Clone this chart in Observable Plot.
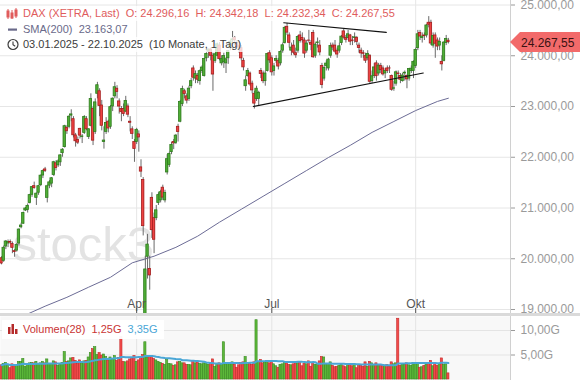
<!DOCTYPE html>
<html><head><meta charset="utf-8">
<script src="https://cdn.jsdelivr.net/npm/d3@7"></script>
<script src="https://cdn.jsdelivr.net/npm/@observablehq/plot@0.6"></script>
<style>
body{margin:0;background:#fff;font-family:"Liberation Sans",Arial,sans-serif;}
#wrap{position:relative;width:580px;height:380px;overflow:hidden;background:#fff;}
#wrap>svg{position:absolute;left:0;}
.leg{position:absolute;left:2px;white-space:pre;font-size:11px;height:15px;line-height:15px;background:rgba(255,255,255,0.78);padding-right:4px;}
.leg svg{position:absolute;left:0;top:0;}
.leg span.t{position:relative;left:21px;padding-right:21px;}
</style></head><body><div id="wrap"></div>
<script>
// ---- data ----
const dates = [
"2025-01-03","2025-01-06","2025-01-07","2025-01-08","2025-01-09","2025-01-10","2025-01-13","2025-01-14","2025-01-15","2025-01-16","2025-01-17","2025-01-20","2025-01-21","2025-01-22","2025-01-23","2025-01-24","2025-01-27","2025-01-28","2025-01-29","2025-01-30","2025-01-31",
"2025-02-03","2025-02-04","2025-02-05","2025-02-06","2025-02-07","2025-02-10","2025-02-11","2025-02-12","2025-02-13","2025-02-14","2025-02-17","2025-02-18","2025-02-19","2025-02-20","2025-02-21","2025-02-24","2025-02-25","2025-02-26","2025-02-27","2025-02-28",
"2025-03-03","2025-03-04","2025-03-05","2025-03-06","2025-03-07","2025-03-10","2025-03-11","2025-03-12","2025-03-13","2025-03-14","2025-03-17","2025-03-18","2025-03-19","2025-03-20","2025-03-21","2025-03-24","2025-03-25","2025-03-26","2025-03-27","2025-03-28","2025-03-31",
"2025-04-01","2025-04-02","2025-04-03","2025-04-04","2025-04-07","2025-04-08","2025-04-09","2025-04-10","2025-04-11","2025-04-14","2025-04-15","2025-04-16","2025-04-17","2025-04-22","2025-04-23","2025-04-24","2025-04-25","2025-04-28","2025-04-29","2025-04-30",
"2025-05-02","2025-05-05","2025-05-06","2025-05-07","2025-05-08","2025-05-09","2025-05-12","2025-05-13","2025-05-14","2025-05-15","2025-05-16","2025-05-19","2025-05-20","2025-05-21","2025-05-22","2025-05-23","2025-05-26","2025-05-27","2025-05-28","2025-05-29","2025-05-30",
"2025-06-02","2025-06-03","2025-06-04","2025-06-05","2025-06-06","2025-06-09","2025-06-10","2025-06-11","2025-06-12","2025-06-13","2025-06-16","2025-06-17","2025-06-18","2025-06-19","2025-06-20","2025-06-23","2025-06-24","2025-06-25","2025-06-26","2025-06-27","2025-06-30",
"2025-07-01","2025-07-02","2025-07-03","2025-07-04","2025-07-07","2025-07-08","2025-07-09","2025-07-10","2025-07-11","2025-07-14","2025-07-15","2025-07-16","2025-07-17","2025-07-18","2025-07-21","2025-07-22","2025-07-23","2025-07-24","2025-07-25","2025-07-28","2025-07-29","2025-07-30","2025-07-31",
"2025-08-01","2025-08-04","2025-08-05","2025-08-06","2025-08-07","2025-08-08","2025-08-11","2025-08-12","2025-08-13","2025-08-14","2025-08-15","2025-08-18","2025-08-19","2025-08-20","2025-08-21","2025-08-22","2025-08-25","2025-08-26","2025-08-27","2025-08-28","2025-08-29",
"2025-09-01","2025-09-02","2025-09-03","2025-09-04","2025-09-05","2025-09-08","2025-09-09","2025-09-10","2025-09-11","2025-09-12","2025-09-15","2025-09-16","2025-09-17","2025-09-18","2025-09-19","2025-09-22","2025-09-23","2025-09-24","2025-09-25","2025-09-26","2025-09-29","2025-09-30",
"2025-10-01","2025-10-02","2025-10-03","2025-10-06","2025-10-07","2025-10-08","2025-10-09","2025-10-10","2025-10-13","2025-10-14","2025-10-15","2025-10-16","2025-10-17","2025-10-20","2025-10-21","2025-10-22"
];
const open = [
20010,19960,20240,20300,20330,20290,20150,20160,20300,20620,20690,20950,20960,21100,21260,21430,21200,21300,21450,21640,21760,
21200,21440,21480,21650,21880,21840,21900,22080,22200,22580,22600,22820,22750,22430,22340,22560,22400,22480,22750,22400,
22620,22950,22500,23250,23300,23020,22300,22500,22700,22600,23000,23200,23350,23100,22950,22950,22900,23000,22700,22550,22300,
22300,22450,21800,21550,18700,20040,19800,21200,20800,20800,21100,21150,21400,21150,21700,21850,22100,22300,22280,22600,
22700,23050,23300,23200,23150,23400,23750,23550,23600,23500,23700,23600,23950,24080,24120,24000,23900,24000,24200,23850,23880,
23850,23950,24150,24300,24350,24250,24200,24150,23900,23400,23600,23650,23450,23250,23150,23150,23700,23650,23500,23700,24050,
23950,23700,23900,23900,23850,24100,24250,24570,24400,24100,24200,24050,24100,24400,24350,24300,24100,24300,24250,24450,24000,24250,24200,
23800,23550,23800,23750,24000,24200,24200,24100,24100,24250,24480,24350,24350,24400,24300,24350,24350,24200,24100,24050,24000,
23950,24000,23500,23600,23850,23650,23800,23750,23650,23750,23750,23600,23350,23450,23650,23600,23500,23650,23600,23550,23700,23700,
23800,24150,24450,24350,24400,24400,24650,24650,24200,24400,24300,24200,23880,23900,24250,24296.16
];
const high = [
20040,20250,20360,20370,20370,20330,20180,20300,20590,20700,20920,21010,21080,21270,21420,21510,21300,21440,21650,21750,21800,
21450,21540,21600,21920,21930,21950,22050,22170,22630,22620,22820,22935,22800,22470,22400,22570,22450,22820,22800,22560,
23250,22990,23150,23476,23350,23120,22600,22780,22730,23020,23170,23476,23410,23150,23000,23050,23200,23050,22800,22600,22350,
22570,22520,21950,21600,20050,20480,20050,21300,20900,21050,21300,21350,21450,21350,22050,22100,22290,22350,22450,22650,
23120,23400,23340,23250,23400,23550,23800,23700,23650,23720,23800,23950,24060,24130,24150,24050,24050,24250,24260,24000,24050,
23960,24100,24300,24479,24380,24300,24260,24200,23950,23600,23750,23680,23500,23300,23400,23300,23750,23700,23700,24050,24100,
24000,23850,24000,23950,24100,24250,24580,24639,24450,24250,24300,24150,24400,24480,24450,24350,24300,24500,24300,24500,24250,24350,24300,
23850,23800,23900,23950,24250,24250,24300,24150,24250,24400,24530,24400,24500,24420,24380,24450,24380,24250,24150,24100,24050,
24100,24020,23700,23850,23900,23850,23850,23800,23750,23800,23800,23620,23500,23700,23700,23650,23650,23700,23620,23750,23800,23900,
24150,24500,24500,24450,24450,24620,24771,24700,24450,24450,24350,24350,24000,24280,24400,24342.18
];
const low = [
19880,19930,20180,20220,20280,20100,20030,20130,20250,20590,20680,20930,20900,21080,21210,21370,21050,21250,21420,21580,21700,
21100,21380,21400,21620,21730,21800,21820,22000,22180,22450,22560,22700,22380,22200,22250,22360,22270,22450,22520,22350,
22600,22230,22450,23150,22800,22520,22160,22450,22480,22550,22900,23150,23150,22850,22700,22800,22880,22780,22500,22350,21900,
22250,22100,21600,20450,18490,19600,19380,20400,20100,20750,21050,21100,21150,21100,21650,21800,22050,22150,22250,22300,
22680,23000,23150,23050,23100,23350,23500,23450,23450,23420,23650,23580,23880,23950,23900,23300,23850,23980,23900,23800,23750,
23650,23830,24100,24250,24200,24120,24050,23900,23700,23300,23580,23400,23250,22950,23100,23000,23550,23450,23400,23680,23850,
23600,23600,23850,23720,23800,24050,24230,24400,24150,24000,24020,23950,24050,24250,24250,23950,24050,24250,24100,23950,23950,24150,24000,
23350,23500,23700,23700,23950,24100,24050,23950,24050,24200,24330,24250,24300,24200,24200,24250,24200,24050,23950,23950,23850,
23900,23450,23450,23550,23500,23600,23650,23600,23550,23650,23650,23300,23300,23400,23550,23450,23480,23500,23350,23500,23650,23550,
23750,24100,24300,24250,24300,24350,24550,24200,24150,23950,24100,24100,23700,23880,24200,24232.34
];
const close = [
19906,20216,20340,20329,20317,20215,20132,20271,20575,20655,20903,20990,21042,21254,21411,21394,21282,21430,21637,21727,21732,
21428,21505,21586,21902,21787,21918,22037,22149,22612,22513,22798,22844,22433,22315,22287,22426,22410,22794,22551,22551,
23147,22327,23081,23419,23009,22620,22329,22676,22567,22987,23154,23380,23288,22999,22892,22853,23109,22839,22679,22461,22163,
22540,22390,21717,20642,19789,20280,19671,20563,20374,20954,21254,21311,21206,21294,21962,22065,22242,22272,22426,22497,
23087,23344,23249,23116,23352,23499,23567,23638,23527,23696,23767,23934,24036,24122,23999,23630,24028,24226,23933,23933,23997,
23930,24091,24276,24323,24304,24174,24162,23948,23771,23516,23699,23434,23317,23057,23350,23269,23641,23498,23649,24033,23909,
23673,23790,23934,23787,24073,24206,24550,24456,24255,24161,24060,24009,24370,24289,24307,24042,24240,24296,24217,23970,24218,24262,24065,
23425,23758,23846,23924,24193,24163,24081,24024,24186,24377,24359,24314,24423,24277,24293,24363,24273,24152,24046,24039,23902,
24037,23487,23595,23770,23597,23807,23718,23632,23703,23698,23749,23329,23359,23674,23639,23527,23611,23666,23534,23739,23745,23880,
24113,24423,24379,24378,24386,24597,24611,24241,24388,24237,24181,24272,23831,24259,24330,24267.55
];
// volume in G (billions)
const volume = [
2.9,3.2,3.4,2.9,2.3,3.1,3.0,3.0,3.6,3.6,4.2,2.6,3.0,3.3,3.4,3.3,3.6,3.1,3.3,3.6,3.3,
4.1,3.2,3.2,3.7,3.5,2.8,3.1,3.4,5.6,3.6,3.7,4.3,4.4,3.8,3.2,3.9,3.3,3.7,3.8,4.5,
5.4,6.2,6.6,5.0,5.4,4.9,5.1,4.6,3.9,4.5,4.0,4.8,3.8,4.4,8.7,3.6,3.5,3.7,4.1,4.2,4.8,
3.6,3.9,4.6,5.0,7.6,4.4,4.6,4.8,4.2,3.9,3.6,3.4,3.2,3.0,4.0,3.2,3.1,2.8,2.9,3.5,
3.6,3.3,3.3,3.0,3.0,2.9,3.8,3.3,3.4,3.2,3.1,3.3,3.3,3.0,3.2,4.1,2.6,3.1,3.3,3.0,7.6,
3.1,3.2,3.1,3.5,3.0,2.4,2.9,3.4,3.5,4.6,3.1,3.2,3.0,3.5,12.1,3.6,4.0,3.3,3.4,3.8,3.3,
3.6,3.1,2.7,2.4,3.0,3.1,3.6,3.3,3.0,2.9,3.1,3.2,3.3,3.5,2.7,3.2,3.1,3.7,2.6,3.4,3.0,3.1,3.7,
4.6,4.5,3.0,3.2,3.5,2.8,2.5,2.6,2.8,3.0,2.7,2.5,3.0,3.0,2.7,3.0,2.3,3.0,2.8,2.6,3.5,
2.6,3.6,3.3,3.0,3.3,2.8,2.9,3.0,2.8,3.0,2.6,3.5,3.1,3.3,12.4,2.8,3.0,3.0,3.3,2.9,2.8,3.4,
3.3,3.3,2.4,2.5,2.8,3.0,3.2,3.8,2.7,3.1,2.8,3.2,4.3,3.0,3.1,1.25
];
// SMA(200) read at sample trading-day indices
const smaIdx = [0,13,20,30,40,50,60,70,80,90,100,110,120,130,140,150,160,170,180,190,200,205];
const smaVal = [18700,18930,19065,19240,19440,19635,19920,20050,20225,20445,20720,20975,21230,21485,21740,21995,22235,22490,22705,22920,23100,23163.07];
// trend lines (trading-day index, price)
const upperIdx = [129.5,176.5], upperVal = [24650,24460];
const lowerIdx = [115.5,193.5], lowerVal = [23000,23660];
const yTicks = [19000,20000,21000,22000,23000,24000,25000];
const volTicks = [5,10];
const xTickDates = ["2025-04-01","2025-07-01","2025-10-01"];
const xTickLabels = ["Apr","Jul","Okt"];

// ---- build ----
const de = d3.formatLocale({decimal:",",thousands:".",grouping:[3],currency:["","€"]});
const fmt = de.format(",.2f");
const fmtG = d => de.format(".2f")(d) + "G";
const n = Math.min(dates.length, open.length, high.length, low.length, close.length, volume.length);
const rows = d3.range(n).map(i => ({i, date:dates[i], o:open[i], h:high[i], l:low[i], c:close[i], v:volume[i], up: close[i] >= open[i]}));
const ma = rows.map((d,i) => ({i, m: d3.mean(rows.slice(Math.max(0,i-27), i+1), r => r.v)}));
const sma = smaIdx.map((x,k) => ({i:x, v:smaVal[k]}));
const xt = xTickDates.map((d,k) => ({i: dates.indexOf(d), label: xTickLabels[k]}));
const xDomain = [-0.46, 233.5];
const FONT = "Liberation Sans, Arial, sans-serif";

const main = Plot.plot({
  width:580, height:313, marginLeft:0, marginRight:70, marginTop:0, marginBottom:0,
  x:{domain:xDomain, axis:null},
  y:{domain:[19000,25000], range:[309,4.5], axis:null},
  style:{fontFamily:FONT, background:"transparent", overflow:"visible"},
  marks:[
    Plot.ruleY(yTicks, {stroke:"#e6e6e6"}),
    Plot.ruleX(xt, {x:"i", stroke:"#e6e6e6"}),
    Plot.text(["stock3"], {text:d=>d, frameAnchor:"bottom-left", dx:12, dy:-53, lineAnchor:"bottom", textAnchor:"start", fontSize:49, fill:"#e3e3e3"}),
    Plot.line(sma, {x:"i", y:"v", stroke:"#6c6c96", strokeWidth:1, clip:true}),
    Plot.ruleX(rows, {x:"i", y1:"l", y2:"h", stroke:"#6a6a6a", strokeWidth:1, clip:true}),
    Plot.rect(rows, {x1:d=>d.i-0.55, x2:d=>d.i+0.55, y1:"o", y2:"c",
      fill:d=>d.up?"#4fae35":"#ee4242", stroke:d=>d.up?"#2d7a1c":"#a51d1d", strokeWidth:0.8, clip:true}),
    Plot.line(upperIdx.map((x,k)=>({i:x, v:upperVal[k]})), {x:"i", y:"v", stroke:"#111", strokeWidth:1.2}),
    Plot.line(lowerIdx.map((x,k)=>({i:x, v:lowerVal[k]})), {x:"i", y:"v", stroke:"#111", strokeWidth:1.2}),
    Plot.ruleX(xt, {x:"i", stroke:"#555", insetTop:308}),
    Plot.text(xt, {x:"i", text:"label", frameAnchor:"bottom", dy:-6, lineAnchor:"bottom", fontSize:12, fill:"#555"}),
    Plot.ruleX([xDomain[1]], {stroke:"#d0d0d0"}),
    Plot.axisY(yTicks, {anchor:"right", tickSize:4, tickPadding:6, tickFormat:fmt, fontSize:12, color:"#9a9a9a"})
  ]
});
main.style.top = "0px";

const vol = Plot.plot({
  width:580, height:64, marginLeft:0, marginRight:70, marginTop:0, marginBottom:0,
  x:{domain:xDomain, axis:null},
  y:{domain:[0,10], range:[63,14], axis:null},
  style:{fontFamily:FONT, background:"transparent", overflow:"visible"},
  marks:[
    Plot.frame({fill:"#f8f8f8", stroke:null}),
    Plot.ruleY(volTicks, {stroke:"#e4e4e4"}),
    Plot.ruleX(xt, {x:"i", stroke:"#e4e4e4"}),
    Plot.rect(rows, {x1:d=>d.i-0.5, x2:d=>d.i+0.5, y1:d=>0, y2:"v",
      fill:d=>d.up?"#5cb83a":"#f24a4a", stroke:d=>d.up?"#3a8a22":"#c42a2a", strokeWidth:0.6, clip:true}),
    Plot.line(ma, {x:"i", y:"m", stroke:"#4aa6d6", strokeWidth:2}),
    Plot.ruleX([xDomain[1]], {stroke:"#d0d0d0"}),
    Plot.axisY(volTicks, {anchor:"right", tickSize:4, tickPadding:6, tickFormat:fmtG, fontSize:12, color:"#9a9a9a"})
  ]
});
vol.style.top = "316px";

const wrap = document.getElementById("wrap");
wrap.appendChild(main);
const sep = document.createElement("div");
sep.style.cssText = "position:absolute;left:0;top:313px;width:580px;height:3px;background:#dadada;";
wrap.appendChild(sep);
wrap.appendChild(vol);

// price tag
const last = rows[n-1];
const ty = main.scale("y").apply(last.c);
const tag = document.createElement("div");
tag.style.cssText = `position:absolute;left:510px;top:${ty-10}px;width:70px;height:20px;`;
tag.innerHTML = `<svg width="70" height="20"><polygon points="0,10 10,0 70,0 70,20 10,20" fill="#f26a6a"/><text x="11" y="14.5" font-family="${FONT}" font-size="12" fill="#3a1212">${fmt(last.c)}</text></svg>`;
wrap.appendChild(tag);

// legends
function leg(top, color, icon, html){
  const d = document.createElement("div");
  d.className = "leg";
  d.style.top = top + "px";
  d.style.color = color;
  d.innerHTML = `<svg width="20" height="15">${icon}</svg><span class="t">${html}</span>`;
  wrap.appendChild(d);
}
const red = "#e05c5c";
leg(5.5, red,
  `<g stroke="${red}" fill="${red}"><line x1="6" y1="3" x2="6" y2="13"/><rect x="5" y="5" width="2" height="6"/><line x1="10" y1="4" x2="10" y2="13"/><rect x="9" y="7" width="2" height="5"/><line x1="14" y1="2" x2="14" y2="12"/><rect x="13" y="4" width="2" height="6"/></g>`,
  `DAX (XETRA, Last)  O: ${fmt(last.o)}  H: ${fmt(last.h)}  L: ${fmt(last.l)}  C: ${fmt(last.c)}`);
leg(21.5, "#6a6a8a", `<rect x="6" y="6.5" width="9" height="2.2" fill="#6a6a8a"/>`,
  `SMA(200)  ${fmt(smaVal[smaVal.length-1])}`);
leg(36.5, "#3c3c3c", `<circle cx="11" cy="7.5" r="5" fill="none" stroke="#3c3c3c" stroke-width="1.2"/><path d="M11 4.5V7.8L13.2 9.3" fill="none" stroke="#3c3c3c" stroke-width="1.1"/>`,
  `${dates[0].split("-").reverse().join(".")} - ${dates[n-1].split("-").reverse().join(".")}  (10 Monate, 1 Tag)`);

const vl = document.createElement("div");
vl.className = "leg";
vl.style.cssText = "top:320px;height:19px;line-height:19px;background:rgba(255,255,255,0.95);color:#c93434;padding-right:6px;";
vl.innerHTML = `<svg width="20" height="19"><g fill="#b52a2a"><rect x="6" y="7" width="2.5" height="7"/><rect x="9.5" y="4" width="2.5" height="10"/><rect x="13" y="9" width="2.5" height="5"/></g></svg><span class="t">Volumen(28)  ${fmtG(last.v)}  <span style="color:#4aa6d6">${fmtG(ma[n-1].m)}</span></span>`;
wrap.appendChild(vl);
</script></body></html>
